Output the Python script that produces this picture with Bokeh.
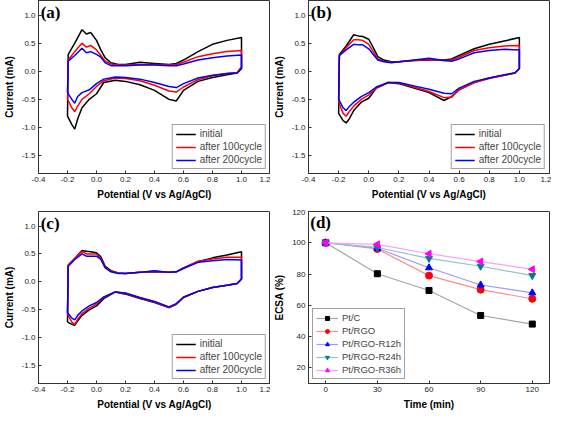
import math
from bokeh.plotting import figure
from bokeh.layouts import gridplot
from bokeh.models import Range1d, FixedTicker, NumeralTickFormatter, Legend, Label
from bokeh.embed import file_html
from bokeh.resources import INLINE

# ---------------- data ----------------
E_fwd = [-0.2, -0.195, -0.15, -0.1, -0.07, -0.04, 0.0, 0.03, 0.06, 0.1, 0.15,
         0.2, 0.3, 0.4, 0.5, 0.55, 0.6, 0.7, 0.8, 0.9, 1.0]
E_rev = [1.0, 0.97, 0.9, 0.8, 0.7, 0.6, 0.55, 0.5, 0.4, 0.3, 0.2, 0.13, 0.05,
         0.0, -0.05, -0.1, -0.13, -0.15, -0.17, -0.2]

series_names = ["initial", "after 100cycle", "after 200cycle"]

# panel (a)
a_init_fwd = [-0.8, 0.3, 0.5, 0.74, 0.665, 0.69, 0.55, 0.38, 0.24, 0.15, 0.12, 0.12, 0.16, 0.14, 0.12, 0.14, 0.2, 0.35, 0.48, 0.55, 0.6]
a_init_rev = [0.05, -0.03, -0.06, -0.11, -0.18, -0.34, -0.53, -0.5, -0.34, -0.24, -0.18, -0.16, -0.2, -0.4, -0.5, -0.65, -0.85, -1.03, -0.95, -0.8]
a_100_fwd = [-0.5, 0.2, 0.35, 0.5, 0.43, 0.46, 0.38, 0.28, 0.18, 0.13, 0.11, 0.11, 0.12, 0.12, 0.11, 0.12, 0.16, 0.26, 0.31, 0.35, 0.37]
a_100_rev = [0.08, -0.02, -0.04, -0.08, -0.15, -0.28, -0.37, -0.35, -0.25, -0.17, -0.13, -0.12, -0.17, -0.27, -0.4, -0.5, -0.62, -0.72, -0.65, -0.5]
a_200_fwd = [-0.38, 0.18, 0.28, 0.41, 0.33, 0.35, 0.3, 0.25, 0.15, 0.1, 0.1, 0.1, 0.11, 0.11, 0.1, 0.1, 0.13, 0.2, 0.24, 0.27, 0.29]
a_200_rev = [0.05, -0.03, -0.04, -0.07, -0.12, -0.22, -0.29, -0.27, -0.2, -0.14, -0.11, -0.1, -0.14, -0.22, -0.33, -0.38, -0.45, -0.57, -0.5, -0.38]

# panel (b)
b_init_fwd = [-0.75, 0.3, 0.45, 0.65, 0.63, 0.62, 0.57, 0.42, 0.26, 0.2, 0.17, 0.17, 0.19, 0.2, 0.2, 0.22, 0.28, 0.4, 0.48, 0.54, 0.6]
b_init_rev = [0.05, -0.03, -0.07, -0.12, -0.2, -0.33, -0.45, -0.52, -0.38, -0.3, -0.22, -0.2, -0.3, -0.48, -0.55, -0.7, -0.85, -0.92, -0.88, -0.75]
b_100_fwd = [-0.55, 0.28, 0.42, 0.56, 0.56, 0.55, 0.48, 0.35, 0.22, 0.18, 0.16, 0.17, 0.19, 0.21, 0.19, 0.2, 0.25, 0.37, 0.42, 0.45, 0.46]
b_100_rev = [0.05, -0.03, -0.07, -0.13, -0.2, -0.33, -0.46, -0.47, -0.36, -0.28, -0.21, -0.2, -0.3, -0.42, -0.5, -0.62, -0.72, -0.8, -0.75, -0.55]
b_200_fwd = [-0.5, 0.28, 0.38, 0.48, 0.47, 0.47, 0.4, 0.3, 0.2, 0.17, 0.15, 0.17, 0.2, 0.23, 0.19, 0.18, 0.22, 0.33, 0.37, 0.39, 0.38]
b_200_rev = [0.05, -0.03, -0.06, -0.12, -0.18, -0.3, -0.4, -0.39, -0.32, -0.26, -0.2, -0.2, -0.28, -0.38, -0.45, -0.55, -0.63, -0.7, -0.65, -0.5]

# panel (c)
c_init_fwd = [-0.72, 0.3, 0.42, 0.56, 0.55, 0.54, 0.52, 0.45, 0.28, 0.2, 0.16, 0.15, 0.17, 0.18, 0.17, 0.18, 0.25, 0.36, 0.43, 0.48, 0.54]
c_init_rev = [0.05, -0.03, -0.06, -0.1, -0.17, -0.28, -0.4, -0.46, -0.37, -0.3, -0.22, -0.18, -0.3, -0.43, -0.5, -0.6, -0.7, -0.78, -0.76, -0.72]
c_100_fwd = [-0.58, 0.3, 0.42, 0.55, 0.5, 0.5, 0.5, 0.42, 0.26, 0.19, 0.16, 0.15, 0.17, 0.19, 0.17, 0.18, 0.25, 0.37, 0.41, 0.44, 0.44]
c_100_rev = [0.05, -0.03, -0.06, -0.1, -0.17, -0.28, -0.4, -0.46, -0.36, -0.29, -0.21, -0.18, -0.28, -0.4, -0.47, -0.57, -0.67, -0.76, -0.72, -0.58]
c_200_fwd = [-0.55, 0.28, 0.4, 0.5, 0.46, 0.46, 0.46, 0.4, 0.25, 0.18, 0.15, 0.15, 0.17, 0.2, 0.17, 0.18, 0.24, 0.35, 0.38, 0.4, 0.39]
c_200_rev = [0.05, -0.03, -0.06, -0.1, -0.17, -0.27, -0.39, -0.45, -0.35, -0.28, -0.2, -0.18, -0.27, -0.37, -0.43, -0.52, -0.6, -0.68, -0.65, -0.55]

# panel (d)
time_min = [0, 30, 60, 90, 120]
ecsa_names = ["Pt/C", "Pt/RGO", "Pt/RGO-R12h", "Pt/RGO-R24h", "Pt/RGO-R36h"]
ecsa_ptc = [100, 80.2, 69.5, 53.5, 48]
ecsa_rgo = [100, 96, 79, 70, 64.2]
ecsa_r12 = [100, 96.5, 84, 73, 68]
ecsa_r24 = [100, 97, 90, 85, 79]
ecsa_r36 = [100, 99, 93, 88, 83]

cv_ticks_x = [-0.4, -0.2, 0.0, 0.2, 0.4, 0.6, 0.8, 1.0, 1.2]
cv_ticks_y = [-1.5, -1.0, -0.5, 0.0, 0.5, 1.0]
d_ticks_x = [0, 30, 60, 90, 120]
d_ticks_y = [20, 40, 60, 80, 100, 120]

# ---------------- styling helpers ----------------
FONT = "Liberation Sans"
FRAME_C = "#333333"
CV_COLORS = ["#000000", "#ff0000", "#0000ff"]


def style(p):
    p.outline_line_color = FRAME_C
    p.outline_line_width = 1
    p.grid.visible = False
    p.background_fill_color = "white"
    p.border_fill_color = "white"
    for ax in (p.xaxis[0], p.yaxis[0]):
        ax.axis_line_color = FRAME_C
        ax.major_tick_line_color = FRAME_C
        ax.major_tick_in = 3
        ax.major_tick_out = 0
        ax.minor_tick_line_color = None
        ax.major_label_text_font = FONT
        ax.major_label_text_font_size = "8px"
        ax.major_label_text_color = "#222222"
        ax.axis_label_text_font = FONT
        ax.axis_label_text_font_size = "10px"
        ax.axis_label_text_font_style = "bold"
        ax.axis_label_text_color = "#000000"
        ax.major_label_standoff = 3
        ax.axis_label_standoff = 4


def panel_label(p, txt, x, y):
    p.add_layout(Label(x=x, y=y, text=txt, text_font="Liberation Serif",
                       text_font_style="bold", text_font_size="17px",
                       text_baseline="top", text_align="left", text_color="#000000"))


def cv_panel(letter, fwds, revs, width, height, mbl, mbr, mbt, mbb):
    p = figure(width=width, height=height, output_backend="svg", toolbar_location=None,
               x_range=Range1d(-0.4, 1.2), y_range=Range1d(-1.82, 1.26),
               min_border_left=mbl, min_border_right=mbr, min_border_top=mbt,
               min_border_bottom=mbb)
    style(p)
    p.xaxis.ticker = FixedTicker(ticks=cv_ticks_x)
    p.yaxis.ticker = FixedTicker(ticks=cv_ticks_y)
    p.xaxis.formatter = NumeralTickFormatter(format="0.0")
    p.yaxis.formatter = NumeralTickFormatter(format="0.0")
    p.xaxis.axis_label = "Potential (V vs Ag/AgCl)"
    p.yaxis.axis_label = "Current (mA)"
    items = []
    for name, col, f, r in zip(series_names, CV_COLORS, fwds, revs):
        xs = E_fwd + E_rev
        ys = f + r
        gl = p.line(xs, ys, line_color=col, line_width=1.5)
        items.append((name, [gl]))
    leg = Legend(items=items, location="bottom_right", margin=4,
                 label_text_font=FONT, label_text_font_size="10px",
                 label_height=10, glyph_height=10, glyph_width=20,
                 label_standoff=4, spacing=2, padding=3,
                 border_line_color="#444444", border_line_width=1,
                 background_fill_alpha=1.0)
    p.add_layout(leg)
    panel_label(p, letter, -0.385, 1.22)
    return p


W_L, W_R = 270, 281
H_T, H_B = 209, 203

pa = cv_panel("(a)", [a_init_fwd, a_100_fwd, a_200_fwd], [a_init_rev, a_100_rev, a_200_rev],
              W_L, H_T, 30, 0, 0, 36)
pb = cv_panel("(b)", [b_init_fwd, b_100_fwd, b_200_fwd], [b_init_rev, b_100_rev, b_200_rev],
              W_R, H_T, 36, 2, 0, 36)
pc = cv_panel("(c)", [c_init_fwd, c_100_fwd, c_200_fwd], [c_init_rev, c_100_rev, c_200_rev],
              W_L, H_B, 30, 0, 2, 28)

# panel (d)
pd = figure(width=W_R, height=H_B, output_backend="svg", toolbar_location=None,
            x_range=Range1d(-10, 130), y_range=Range1d(10, 120),
            min_border_left=36, min_border_right=2, min_border_top=2, min_border_bottom=28)
style(pd)
pd.xaxis.ticker = FixedTicker(ticks=d_ticks_x)
pd.yaxis.ticker = FixedTicker(ticks=d_ticks_y)
pd.xaxis.axis_label = "Time (min)"
pd.yaxis.axis_label = "ECSA (%)"

d_series = [ecsa_ptc, ecsa_rgo, ecsa_r12, ecsa_r24, ecsa_r36]
line_cols = ["#a6a6a6", "#ff8c8c", "#9a9aff", "#8cc8c8", "#ff9cff"]
mark_cols = ["#000000", "#ff0000", "#0000ff", "#008080", "#ff00ff"]
markers = ["square", "circle", "triangle", "inverted_triangle", "triangle"]
angles = [0, 0, 0, 0, math.pi / 2]
sizes = [6, 7, 7, 7, 7]
d_items = []
for name, ys, lc, mc, mk, ang, sz in zip(ecsa_names, d_series, line_cols, mark_cols, markers, angles, sizes):
    gl = pd.line(time_min, ys, line_color=lc, line_width=1.2)
    gs = pd.scatter(time_min, ys, marker=mk, size=sz, angle=ang,
                    fill_color=mc, line_color=mc)
    d_items.append((name, [gl, gs]))
dleg = Legend(items=d_items, location="bottom_left", margin=4,
              label_text_font=FONT, label_text_font_size="9.5px",
              label_height=10, glyph_height=10, glyph_width=22,
              label_standoff=4, spacing=2, padding=3,
              border_line_color="#444444", border_line_width=1)
pd.add_layout(dleg)
panel_label(pd, "(d)", -9, 119)

grid = gridplot([[pa, pb], [pc, pd]], toolbar_location=None)

open("out.html", "w").write(file_html(grid, INLINE))
